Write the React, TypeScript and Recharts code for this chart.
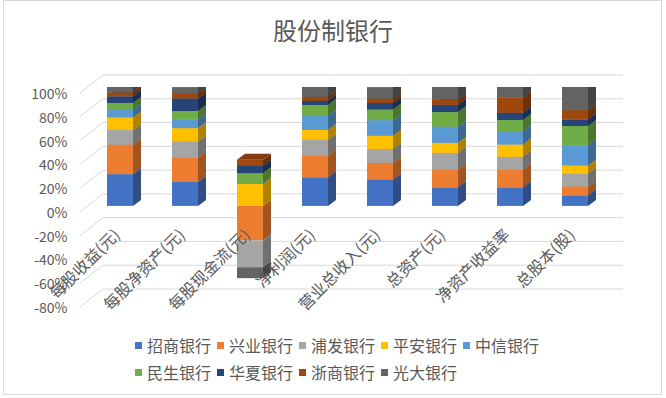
import { BarChart, Bar, XAxis, YAxis, CartesianGrid } from 'recharts'

const categories = ['每股收益(元)', '每股净资产(元)', '每股现金流(元)', '净利润(元)', '营业总收入(元)', '总资产(元)', '净资产收益率', '总股本(股)']
const banks = ['招商银行', '兴业银行', '浦发银行', '平安银行', '中信银行', '民生银行', '华夏银行', '浙商银行', '光大银行']
const colors = ['#4472C4', '#ED7D31', '#A5A5A5', '#FFC000', '#5B9BD5', '#70AD47', '#264478', '#9E480E', '#636363']

// percent share of each bank per indicator
const zhaoshang = [26.7, 20.1, 0, 24.0, 22.0, 15.6, 15.6, 8.9]
const xingye = [24.8, 20.3, -29.0, 18.4, 14.2, 14.8, 14.8, 7.5]
const pufa = [12.3, 13.6, -22.6, 13.1, 11.7, 14.2, 10.9, 10.6]
const pingan = [10.6, 11.4, 18.4, 8.4, 11.1, 8.4, 10.3, 7.0]
const zhongxin = [6.4, 7.2, 1.0, 11.7, 13.1, 13.6, 11.4, 17.0]
const minsheng = [5.8, 7.2, 8.1, 9.2, 8.9, 12.3, 9.2, 16.2]
const huaxia = [5.6, 10.6, 6.1, 3.6, 5.6, 6.1, 6.1, 5.6]
const zheshang = [3.3, 3.9, 5.3, 3.3, 3.6, 4.5, 12.8, 7.8]
const guangda = [4.5, 5.6, -9.2, 8.4, 9.7, 10.6, 8.9, 19.5]

const series = [zhaoshang, xingye, pufa, pingan, zhongxin, minsheng, huaxia, zheshang, guangda]
const yTicks = [-80, -60, -40, -20, 0, 20, 40, 60, 80, 100]

const data = categories.map((name, i) => {
  const row: any = { name }
  banks.forEach((b, j) => {
    row[b] = series[j][i]
  })
  return row
})

const W = 666
const H = 398
const M_TOP = 87
const M_BOTTOM = 67
const X_AXIS_H = 30
const PLOT_H = H - M_TOP - M_BOTTOM - X_AXIS_H
const ZERO_Y = M_TOP + (100 / 180) * PLOT_H
const DX = 8
const DY = 6
const TEXT = '#595959'

const shade = (hex: string, f: number) => {
  const n = parseInt(hex.slice(1), 16)
  const r = Math.round(((n >> 16) & 255) * f)
  const g = Math.round(((n >> 8) & 255) * f)
  const b = Math.round((n & 255) * f)
  return `rgb(${r},${g},${b})`
}

const Box3D = (props: any) => {
  const { x, y, width, height, color, bank, payload } = props
  const v = payload ? payload[bank] : 0
  if (!v || Math.abs(height) < 0.3) return null
  const top = Math.min(y, y + height)
  const bot = top + Math.abs(height)
  const r = x + width
  return (
    <g>
      <rect x={x} y={top} width={width} height={bot - top} fill={color} />
      <polygon
        points={`${r},${top} ${r + DX},${top - DY} ${r + DX},${bot - DY} ${r},${bot}`}
        fill={shade(color, 0.68)}
      />
      {v > 0 && (
        <polygon
          points={`${x},${top} ${r},${top} ${r + DX},${top - DY} ${x + DX},${top - DY}`}
          fill={shade(color, 0.82)}
        />
      )}
    </g>
  )
}

const gridLine = (p: any) => {
  const { x1, x2, y1, index } = p
  return (
    <polyline
      key={`g-${index}-${y1}`}
      points={`${x1 - 7.5},${y1 + 6} ${x1 + 15.5},${y1 - 12} ${x2 + 15.5},${y1 - 12}`}
      fill="none"
      stroke="#d9d9d9"
      strokeWidth={1}
    />
  )
}

const YTick = (p: any) => (
  <text x={p.x - 12} y={p.y + 6} textAnchor="end" dominantBaseline="central" fontSize={14} fill={TEXT}>
    {`${p.payload.value}%`}
  </text>
)

const XTick = (p: any) => {
  const ax = p.x + 1
  const ay = ZERO_Y + 30
  return (
    <text x={ax} y={ay} textAnchor="end" fontSize={16} fill={TEXT} transform={`rotate(-45, ${ax}, ${ay})`}>
      {p.payload.value}
    </text>
  )
}

export default function App() {
  return (
    <div
      style={{
        position: 'absolute',
        left: 0,
        top: 0,
        width: W,
        height: H,
        background: '#fff',
        fontFamily: "'Noto Sans CJK SC', 'Noto Sans', sans-serif",
      }}
    >
      <div
        style={{
          position: 'absolute',
          left: 3,
          top: 0,
          width: 659,
          height: 395,
          border: '1px solid #d9d9d9',
          boxSizing: 'border-box',
        }}
      />
      <div
        style={{
          position: 'absolute',
          top: 12,
          left: 0,
          width: W,
          textAlign: 'center',
          fontSize: 24,
          color: TEXT,
        }}
      >
        股份制银行
      </div>
      <div style={{ position: 'absolute', left: 0, top: 0 }}>
        <BarChart
          width={W}
          height={H}
          data={data}
          stackOffset="sign"
          barCategoryGap="30%"
          margin={{ top: M_TOP, right: 58.5, bottom: M_BOTTOM, left: 0 }}
        >
          <CartesianGrid vertical={false} horizontal={gridLine} />
          <XAxis dataKey="name" axisLine={false} tickLine={false} height={X_AXIS_H} interval={0} tick={XTick} />
          <YAxis
            type="number"
            domain={[-80, 100]}
            ticks={yTicks}
            width={87.5}
            axisLine={false}
            tickLine={false}
            tick={YTick}
            allowDataOverflow
          />
          {banks.map((b, j) => (
            <Bar
              key={b}
              dataKey={b}
              stackId="a"
              fill={colors[j]}
              isAnimationActive={false}
              shape={(p: any) => <Box3D {...p} color={colors[j]} bank={b} />}
            />
          ))}
        </BarChart>
      </div>
      <div
        style={{
          position: 'absolute',
          left: 135,
          top: 335,
          width: 420,
          display: 'flex',
          flexWrap: 'wrap',
          rowGap: 6,
          fontSize: 16,
          color: TEXT,
          lineHeight: '21px',
        }}
      >
        {banks.map((b, j) => (
          <div key={b} style={{ display: 'flex', alignItems: 'center', marginRight: 6 }}>
            <span style={{ width: 7, height: 7, background: colors[j], marginRight: 5, display: 'inline-block' }} />
            <span>{b}</span>
          </div>
        ))}
      </div>
    </div>
  )
}
